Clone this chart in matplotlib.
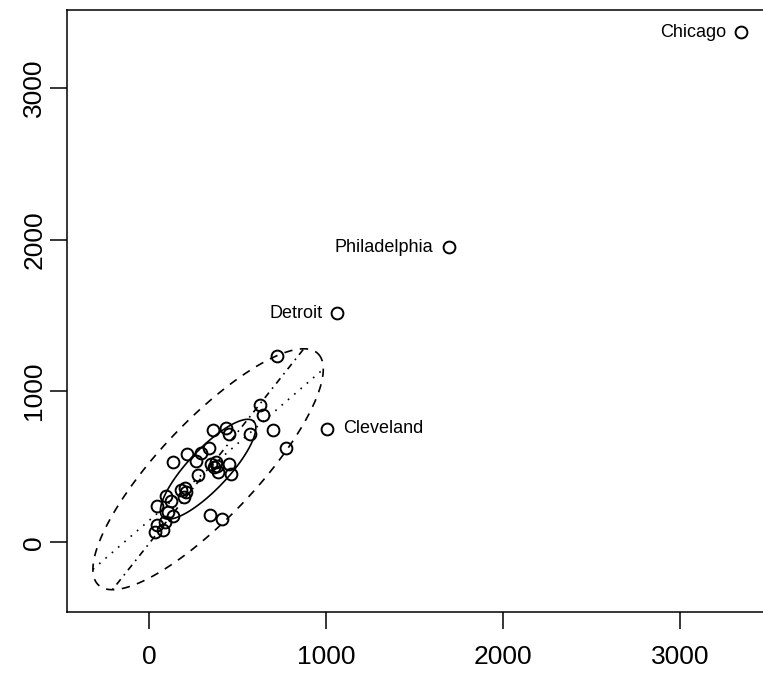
import numpy as np
import matplotlib
matplotlib.use("Agg")
import matplotlib.pyplot as plt

plt.rcParams['font.family'] = ['Liberation Sans', 'DejaVu Sans']

# US air pollution data: manufacturing enterprises (manu) vs population (popul)
cities = ["Albany", "Albuquerque", "Atlanta", "Baltimore", "Buffalo", "Charleston",
          "Chicago", "Cincinnati", "Cleveland", "Columbus", "Dallas", "Denver",
          "Des Moines", "Detroit", "Hartford", "Houston", "Indianapolis", "Jacksonville",
          "Kansas City", "Little Rock", "Louisville", "Memphis", "Miami", "Milwaukee",
          "Minneapolis", "Nashville", "New Orleans", "Norfolk", "Omaha", "Philadelphia",
          "Phoenix", "Pittsburgh", "Providence", "Richmond", "Salt Lake City",
          "San Francisco", "Seattle", "St. Louis", "Washington", "Wichita", "Wilmington"]
manu = [44, 46, 368, 625, 391, 35, 3344, 462, 1007, 266, 641, 454, 104, 1064, 412, 721,
        361, 136, 381, 91, 291, 337, 207, 569, 699, 275, 204, 96, 181, 1692, 213, 347,
        343, 197, 137, 453, 379, 775, 434, 125, 80]
popul = [116, 244, 497, 905, 463, 71, 3369, 453, 751, 540, 844, 515, 201, 1513, 158, 1233,
         746, 529, 507, 132, 593, 624, 335, 717, 744, 448, 361, 308, 347, 1950, 582, 520,
         179, 299, 176, 716, 531, 622, 757, 277, 80]
outliers = ["Chicago", "Philadelphia", "Detroit", "Cleveland"]
label_side = ["left", "left", "left", "right"]


def biweight_1d(x, c1=9):
    n = len(x)
    m = np.median(x)
    mad = np.median(np.abs(x - m))
    if mad == 0:
        return m, np.sum(np.abs(x - m)) / n
    u = (x - m) / (c1 * mad)
    k = np.abs(u) < 1
    u1 = u[k]
    t = m + np.sum((x[k] - m) * (1 - u1 ** 2) ** 2) / np.sum((1 - u1 ** 2) ** 2)
    s = np.sqrt(n) * np.sqrt(np.sum((x[k] - m) ** 2 * (1 - u1 ** 2) ** 4)) / \
        abs(np.sum((1 - u1 ** 2) * (1 - 5 * u1 ** 2)))
    return t, s


def biweight(x, y, c2=36):
    # robust location / scale / correlation (one reweighting step)
    tx, sx = biweight_1d(x)
    ty, sy = biweight_1d(y)
    z1 = (y - ty) / sy + (x - tx) / sx
    z2 = (y - ty) / sy - (x - tx) / sx
    tz1, sz1 = biweight_1d(z1)
    tz2, sz2 = biweight_1d(z2)
    esq = ((z1 - tz1) / sz1) ** 2 + ((z2 - tz2) / sz2) ** 2
    w = np.where(esq < c2, (1 - esq / c2) ** 2, 0.0)
    sw = w.sum()
    tx = np.sum(w * x) / sw
    ty = np.sum(w * y) / sw
    sx = np.sqrt(np.sum(w * (x - tx) ** 2) / sw)
    sy = np.sqrt(np.sum(w * (y - ty) ** 2) / sw)
    r = np.sum(w * (x - tx) * (y - ty)) / (sx * sy * sw)
    return tx, ty, sx, sy, r


x = np.array(manu, dtype=float)
y = np.array(popul, dtype=float)
d = 7
m1, m2, s1, s2, r = biweight(x, y)

xs = (x - m1) / s1
ys = (y - m2) / s2
e = np.sqrt((xs * xs + ys * ys - 2 * r * xs * ys) / (1 - r * r))
em = np.median(e)
emax = np.max(e[e * e < d * em * em])
theta = np.radians(np.arange(0, 361, 3))


def ellipse(scale):
    r1 = scale * np.sqrt((1 + r) / 2)
    r2 = scale * np.sqrt((1 - r) / 2)
    ex = m1 + (r1 * np.cos(theta) + r2 * np.sin(theta)) * s1
    ey = m2 + (r1 * np.cos(theta) - r2 * np.sin(theta)) * s2
    return ex, ey


xp, yp = ellipse(em)
xpp, ypp = ellipse(emax)
b1 = r * s2 / s1
a1 = m2 - b1 * m1
b2 = r * s1 / s2
a2 = m1 - b2 * m2

fig = plt.figure(figsize=(7.63, 6.74), dpi=100)
ax = fig.add_axes([67 / 763, 62 / 674, 700 / 763, 602 / 674])

ax.plot(x, y, linestyle="none", marker="o", markersize=8.5, markerfacecolor="none",
        markeredgecolor="black", markeredgewidth=1.4)
ax.plot(xp, yp, color="black", lw=1.2)
ax.plot(xpp, ypp, color="black", lw=1.2, dashes=(5, 4.5))
ax.plot([xpp.min(), xpp.max()], [a1 + b1 * xpp.min(), a1 + b1 * xpp.max()],
        color="black", lw=1.2, dashes=(1, 4))
ax.plot([a2 + b2 * ypp.min(), a2 + b2 * ypp.max()], [ypp.min(), ypp.max()],
        color="black", lw=1.2, dashes=(1, 3, 4, 3))

for name, side in zip(outliers, label_side):
    i = cities.index(name)
    off = -11 if side == "left" else 11
    ha = "right" if side == "left" else "left"
    ax.annotate(name, (x[i], y[i]), xytext=(off, 0), textcoords="offset points",
                ha=ha, va="center", fontsize=13)

# R style limits: data range plus 4 percent
minx = min(x.min(), xpp.min(), xp.min())
maxx = max(x.max(), xpp.max(), xp.max())
miny = min(y.min(), ypp.min(), yp.min())
maxy = max(y.max(), ypp.max(), yp.max())
ax.set_xlim(minx - 0.04 * (maxx - minx), maxx + 0.04 * (maxx - minx))
ax.set_ylim(miny - 0.04 * (maxy - miny), maxy + 0.04 * (maxy - miny))

ax.set_xticks([0, 1000, 2000, 3000])
ax.set_yticks([0, 1000, 2000, 3000])
ax.tick_params(length=12, width=1.1, labelsize=19)
ax.tick_params(axis="x", pad=12)
ax.tick_params(axis="y", pad=3)
for lab in ax.get_yticklabels():
    lab.set_rotation(90)
    lab.set_va("center")
for sp in ax.spines.values():
    sp.set_linewidth(1.1)

fig.savefig("out.png", dpi=100)
